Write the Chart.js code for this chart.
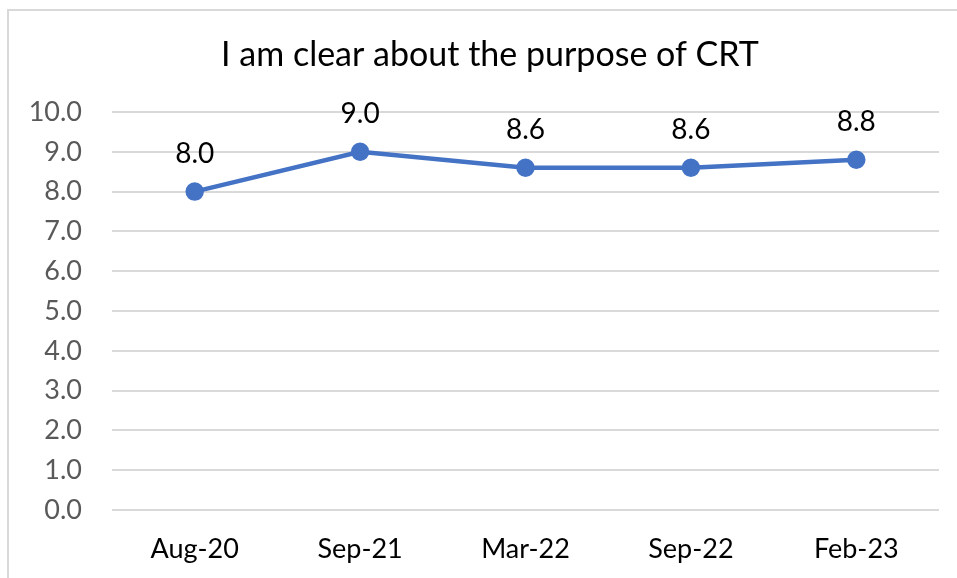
<!DOCTYPE html>
<html>
<head>
<meta charset="utf-8">
<script src="https://cdn.jsdelivr.net/npm/chart.js@4/dist/chart.umd.min.js"></script>
<style>
  html, body { margin: 0; padding: 0; background: #fff; }
  #wrap { position: relative; width: 957px; height: 578px; }
</style>
</head>
<body>
<div id="wrap"><canvas id="chart"></canvas></div>
<script>
// chart data
const labels = ['Aug-20', 'Sep-21', 'Mar-22', 'Sep-22', 'Feb-23'];
const scores = [8.0, 9.0, 8.6, 8.6, 8.8];
const titleText = 'I am clear about the purpose of CRT';

const FONT = 'Lato, "Noto Sans", sans-serif';

// outer frame like the Excel chart border, plus the title
const framePlugin = {
  id: 'frame',
  beforeDraw(chart) {
    const ctx = chart.ctx;
    ctx.save();
    ctx.strokeStyle = '#d9d9d9';
    ctx.lineWidth = 2;
    ctx.beginPath();
    ctx.moveTo(8, 590);
    ctx.lineTo(8, 10);
    ctx.lineTo(957, 10);
    ctx.stroke();

    ctx.font = '34px ' + FONT;
    ctx.fillStyle = '#000';
    ctx.textAlign = 'center';
    ctx.textBaseline = 'middle';
    ctx.fillText(titleText, 490, 55);
    ctx.restore();
  }
};

// value labels above the points
const valueLabels = {
  id: 'valueLabels',
  afterDatasetsDraw(chart) {
    const ctx = chart.ctx;
    const meta = chart.getDatasetMeta(0);
    ctx.save();
    ctx.font = '28px ' + FONT;
    ctx.fillStyle = '#000';
    ctx.textAlign = 'center';
    ctx.textBaseline = 'middle';
    meta.data.forEach((pt, i) => {
      ctx.fillText(scores[i].toFixed(1), pt.x, pt.y - 38);
    });
    ctx.restore();
  }
};

const config = {
  type: 'line',
  data: {
    labels: labels,
    datasets: [{
      data: scores,
      borderColor: '#4472C4',
      backgroundColor: '#4472C4',
      borderWidth: 4.5,
      pointRadius: 7,
      pointHoverRadius: 7,
      tension: 0
    }]
  },
  options: {
    responsive: true,
    maintainAspectRatio: false,
    animation: false,
    layout: { padding: { left: 0, right: 18, top: 112, bottom: 0 } },
    plugins: {
      legend: { display: false },
      tooltip: { enabled: false },
      title: { display: false }
    },
    scales: {
      x: {
        offset: true,
        grid: { display: false, drawTicks: false },
        border: { display: false },
        ticks: {
          color: '#000',
          padding: 23,
          font: { family: FONT, size: 27 },
          maxRotation: 0
        },
        afterFit(scale) { scale.height = 68; }
      },
      y: {
        min: 0,
        max: 10,
        grid: { color: '#d9d9d9', lineWidth: 2, drawTicks: false },
        border: { display: false },
        ticks: {
          stepSize: 1,
          color: '#595959',
          padding: 30,
          font: { family: FONT, size: 27 },
          callback: v => Number(v).toFixed(1)
        },
        afterFit(scale) { scale.width = 112; }
      }
    }
  },
  plugins: [framePlugin, valueLabels]
};

const myChart = new Chart(document.getElementById('chart'), config);
</script>
</body>
</html>
